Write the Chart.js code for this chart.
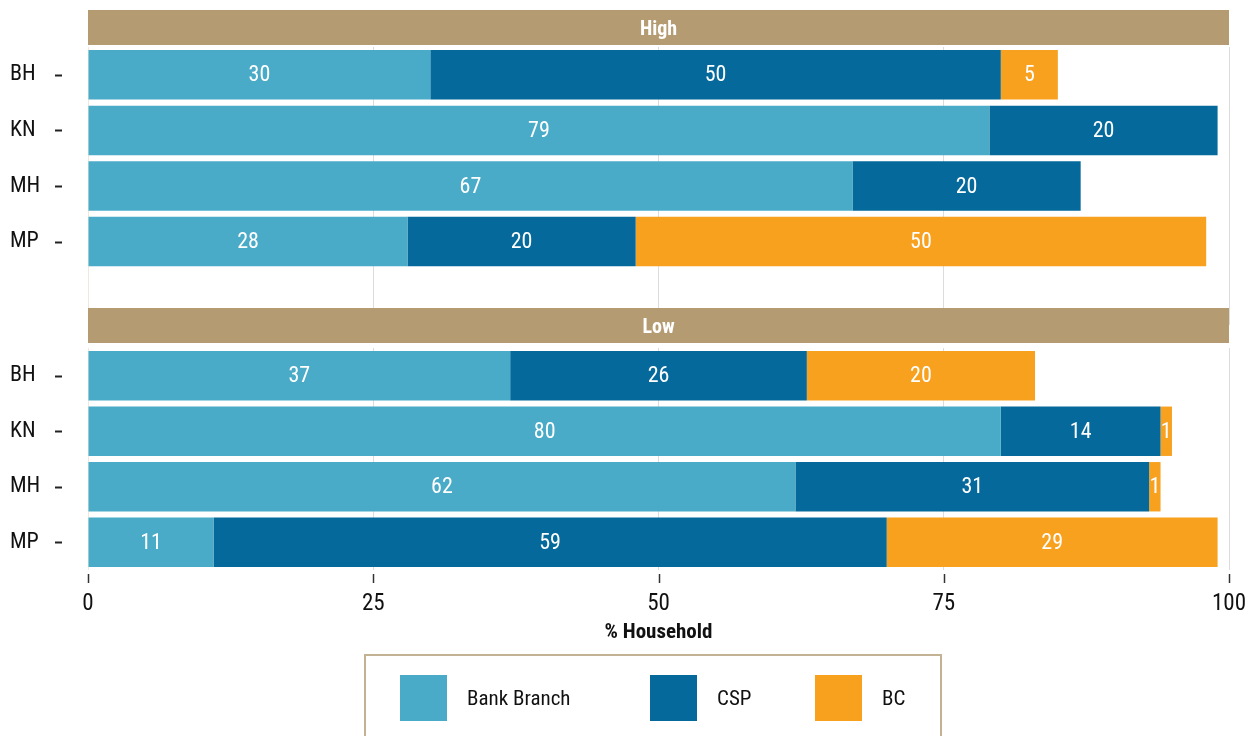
<!DOCTYPE html>
<html>
<head>
<meta charset="utf-8">
<script src="https://cdn.jsdelivr.net/npm/chart.js@4.4.1/dist/chart.umd.min.js"></script>
<style>
  body { margin: 0; background: #fff; width: 1254px; height: 736px; overflow: hidden; position: relative;
         font-family: "Roboto Condensed", "DejaVu Sans Condensed", sans-serif; }
  canvas { position: absolute; left: 0; top: 0; }
  #legend { position: absolute; left: 364px; top: 654px; width: 574px; height: 110px; border: 2px solid #c3b394; }
  .item { position: absolute; top: 19px; height: 46px; display: flex; align-items: center; }
  .sw { width: 47px; height: 46px; }
  .lbl { margin-left: 20px; font-size: 21px; color: #111; }
</style>
</head>
<body>
<canvas id="high" width="1254" height="736"></canvas>
<canvas id="low" width="1254" height="736"></canvas>
<div id="legend"></div>
<script>
// data
const categories = ['BH', 'KN', 'MH', 'MP'];
const seriesNames = ['Bank Branch', 'CSP', 'BC'];
const highBank = [30, 79, 67, 28];
const highCsp = [50, 20, 20, 20];
const highBc = [5, 0, 0, 50];
const lowBank = [37, 80, 62, 11];
const lowCsp = [26, 14, 31, 59];
const lowBc = [20, 1, 1, 29];
const xTicks = [0, 25, 50, 75, 100];

const colors = ['#4aabc8', '#05699b', '#f7a11f'];
const stripColor = '#b59b72';
const FONT = '"Roboto Condensed", "DejaVu Sans Condensed", sans-serif';

Chart.defaults.font.family = FONT;
Chart.defaults.color = '#111';

// facet strip + y tick dashes + value labels
const facetPlugin = {
    id: 'facet',
    afterDraw(chart, args, opts) {
        const ctx = chart.ctx;
        const area = chart.chartArea;
        ctx.save();
        // strip
        ctx.fillStyle = stripColor;
        ctx.fillRect(area.left, opts.stripTop, area.right - area.left, opts.stripBottom - opts.stripTop);
        ctx.fillStyle = '#fff';
        ctx.font = 'bold 20px ' + FONT;
        ctx.textAlign = 'center';
        ctx.textBaseline = 'middle';
        ctx.fillText(opts.title, (area.left + area.right) / 2, (opts.stripTop + opts.stripBottom) / 2 + 2);

        // y tick dashes
        const y = chart.scales.y;
        ctx.strokeStyle = '#222';
        ctx.lineWidth = 2;
        y.ticks.forEach((t, i) => {
            if (!chart.data.labels[i]) return;
            const py = Math.round(y.getPixelForTick(i)) + 0.5;
            ctx.beginPath();
            ctx.moveTo(55, py);
            ctx.lineTo(62, py);
            ctx.stroke();
        });

        // x tick marks (bottom panel only)
        if (opts.xTickMarks) {
            const x = chart.scales.x;
            ctx.strokeStyle = '#333';
            ctx.lineWidth = 1.5;
            xTicks.forEach(v => {
                const px = Math.round(x.getPixelForValue(v)) + 0.5;
                ctx.beginPath();
                ctx.moveTo(px, area.bottom + 4);
                ctx.lineTo(px, area.bottom + 13);
                ctx.stroke();
            });
        }

        // value labels
        ctx.fillStyle = '#fff';
        ctx.font = '22px ' + FONT;
        chart.data.datasets.forEach((ds, di) => {
            const meta = chart.getDatasetMeta(di);
            meta.data.forEach((bar, i) => {
                const v = ds.data[i];
                if (!v) return;
                const p = bar.getProps(['x', 'y', 'base'], true);
                ctx.fillText(String(v), (p.x + p.base) / 2, p.y + 1);
            });
        });
        ctx.restore();
    }
};

function makeChart(id, labels, bank, csp, bc, opts) {
    const data = [bank, csp, bc];
    return new Chart(document.getElementById(id), {
        type: 'bar',
        data: {
            labels: labels,
            datasets: seriesNames.map((name, i) => ({
                label: name,
                data: data[i],
                backgroundColor: colors[i],
                borderWidth: 0,
                barPercentage: 0.89,
                categoryPercentage: 1
            }))
        },
        options: {
            indexAxis: 'y',
            responsive: false,
            animation: false,
            layout: { padding: opts.padding },
            plugins: {
                legend: { display: false },
                tooltip: { enabled: false },
                facet: opts.facet
            },
            scales: {
                x: {
                    type: 'linear',
                    stacked: true,
                    min: 0,
                    max: 100,
                    afterBuildTicks: s => { s.ticks = xTicks.map(v => ({ value: v })); },
                    border: { display: false },
                    grid: {
                        drawTicks: false,
                        color: c => c.tick && c.tick.value === 0 ? '#efe9dc' : '#dcdcdc',
                        lineWidth: 1
                    },
                    ticks: {
                        display: opts.showX,
                        padding: 20,
                        color: '#111',
                        font: { size: 23 }
                    },
                    title: {
                        display: opts.showX,
                        text: '% Household',
                        color: '#111',
                        font: { size: 21, weight: 'bold' },
                        padding: { top: 5, bottom: 5 }
                    },
                    afterFit: s => {
                        s.height = opts.xHeight;
                        s.paddingLeft = 0;
                        s.paddingRight = 0;
                    }
                },
                y: {
                    stacked: true,
                    border: { display: false },
                    grid: { display: false },
                    ticks: {
                        crossAlign: 'far',
                        color: '#111',
                        font: { size: 22 }
                    },
                    afterFit: s => {
                        s.width = 78;
                        s.paddingTop = 0;
                        s.paddingBottom = 0;
                    }
                }
            }
        },
        plugins: [facetPlugin]
    });
}

// High panel keeps an empty slot below MP, like the reference
makeChart('high', categories.concat(['']), highBank, highCsp, highBc, {
    padding: { left: 10, right: 25, top: 47, bottom: 411 },
    showX: false,
    xHeight: 0,
    facet: { title: 'High', stripTop: 10, stripBottom: 45, xTickMarks: false }
});

makeChart('low', categories, lowBank, lowCsp, lowBc, {
    padding: { left: 10, right: 25, top: 348, bottom: 86 },
    showX: true,
    xHeight: 80,
    facet: { title: 'Low', stripTop: 308, stripBottom: 343, xTickMarks: true }
});

// legend
const legend = document.getElementById('legend');
const itemLeft = [34, 284, 449];
seriesNames.forEach((name, i) => {
    const item = document.createElement('div');
    item.className = 'item';
    item.style.left = itemLeft[i] + 'px';
    item.innerHTML = '<div class="sw" style="background:' + colors[i] + '"></div><span class="lbl">' + name + '</span>';
    legend.appendChild(item);
});
</script>
</body>
</html>
